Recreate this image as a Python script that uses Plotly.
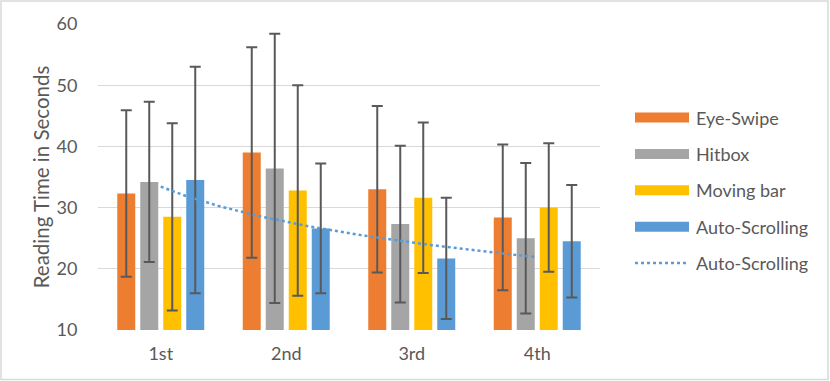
import numpy as np
from plotly import graph_objs as go

# reading time per trial
trials = ['1st', '2nd', '3rd', '4th']
eye_swipe = [32.3, 39.0, 33.0, 28.4]
eye_swipe_err = [13.6, 17.2, 13.6, 11.9]
hitbox = [34.2, 36.4, 27.3, 25.0]
hitbox_err = [13.1, 22.0, 12.8, 12.3]
moving_bar = [28.5, 32.8, 31.6, 30.0]
moving_bar_err = [15.3, 17.2, 12.3, 10.5]
auto_scroll = [34.5, 26.6, 21.7, 24.5]
auto_scroll_err = [18.5, 10.6, 9.9, 9.2]

series = [
    ('Eye-Swipe', eye_swipe, eye_swipe_err, '#ED7D31'),
    ('Hitbox', hitbox, hitbox_err, '#A5A5A5'),
    ('Moving bar', moving_bar, moving_bar_err, '#FFC000'),
    ('Auto-Scrolling', auto_scroll, auto_scroll_err, '#5B9BD5'),
]

W, H = 830, 381
L, R, T, B = 98, 600, 24, 330   # plot area in pixels
FONT = 'Lato'
FS = 18
TXT = '#595959'

def px_x(px):
    return (px - L) / (R - L)

def px_y(py):
    return (B - py) / (B - T)

x = np.arange(1, len(trials) + 1)

stuff = []
for name, vals, err, col in series:
    stuff.append(go.Bar(
        x=x, y=vals, name=name, marker=dict(color=col, line=dict(width=0)),
        error_y=dict(type='data', array=err, color='#595959', thickness=2, width=5.5),
        showlegend=False, hoverinfo='skip'))

# logarithmic trendline of Auto-Scrolling (like Excel)
b, a = np.polyfit(np.log(x), auto_scroll, 1)
xt = np.linspace(1, len(trials), 80)
stuff.append(go.Scatter(x=xt, y=a + b * np.log(xt), mode='lines', name='Auto-Scrolling',
                        line=dict(color='#5B9BD5', width=2.5, dash='dot'), showlegend=False,
                        hoverinfo='skip'))

shapes = []
annotations = []
# chart border
shapes.append(dict(type='rect', xref='paper', yref='paper',
                   x0=px_x(1), x1=px_x(828), y0=px_y(379.5), y1=px_y(1),
                   line=dict(color='#D9D9D9', width=1.5), fillcolor='rgba(0,0,0,0)'))

# legend drawn by hand so the swatches are wide like Excel
leg_y = [117.5, 154, 190.3, 226.7, 263]
for i, (name, vals, err, col) in enumerate(series):
    shapes.append(dict(type='rect', xref='paper', yref='paper',
                       x0=px_x(635), x1=px_x(689), y0=px_y(leg_y[i] + 5), y1=px_y(leg_y[i] - 5),
                       line=dict(width=0), fillcolor=col))
    annotations.append(dict(xref='paper', yref='paper', x=px_x(694), y=px_y(leg_y[i]),
                            text=name, showarrow=False, xanchor='left', yanchor='middle',
                            font=dict(family=FONT, size=FS, color=TXT)))
shapes.append(dict(type='line', xref='paper', yref='paper',
                   x0=px_x(635), x1=px_x(689), y0=px_y(leg_y[4]), y1=px_y(leg_y[4]),
                   line=dict(color='#5B9BD5', width=2.5, dash='dot')))
annotations.append(dict(xref='paper', yref='paper', x=px_x(694), y=px_y(leg_y[4]),
                        text='Auto-Scrolling', showarrow=False, xanchor='left', yanchor='middle',
                        font=dict(family=FONT, size=FS, color=TXT)))

layout = go.Layout(
    width=W, height=H,
    margin=dict(l=L, r=W - R, t=T, b=H - B, autoexpand=False),
    paper_bgcolor='white', plot_bgcolor='white',
    barmode='group', bargap=0.267, bargroupgap=0.217,
    font=dict(family=FONT, size=FS, color=TXT),
    xaxis=dict(range=[0.5, len(trials) + 0.5], tickvals=x, ticktext=trials,
               showgrid=False, zeroline=False, showline=False,
               ticks='outside', ticklen=7, tickcolor='rgba(0,0,0,0)',
               tickfont=dict(family=FONT, size=FS, color=TXT)),
    yaxis=dict(range=[10, 60], dtick=10, showgrid=True, gridcolor='#D9D9D9', gridwidth=1,
               zeroline=False, showline=False,
               ticks='outside', ticklen=16, tickcolor='rgba(0,0,0,0)',
               tickfont=dict(family=FONT, size=FS, color=TXT),
               title=dict(text='Reading Time in Seconds', standoff=1,
                          font=dict(family=FONT, size=20.5, color=TXT))),
    shapes=shapes, annotations=annotations,
)

fig = go.Figure(data=stuff, layout=layout)
# page body margin would shift the chart by 8px
fig.write_html("out.html", config={'displayModeBar': False},
               post_script="document.body.style.margin='0';")
